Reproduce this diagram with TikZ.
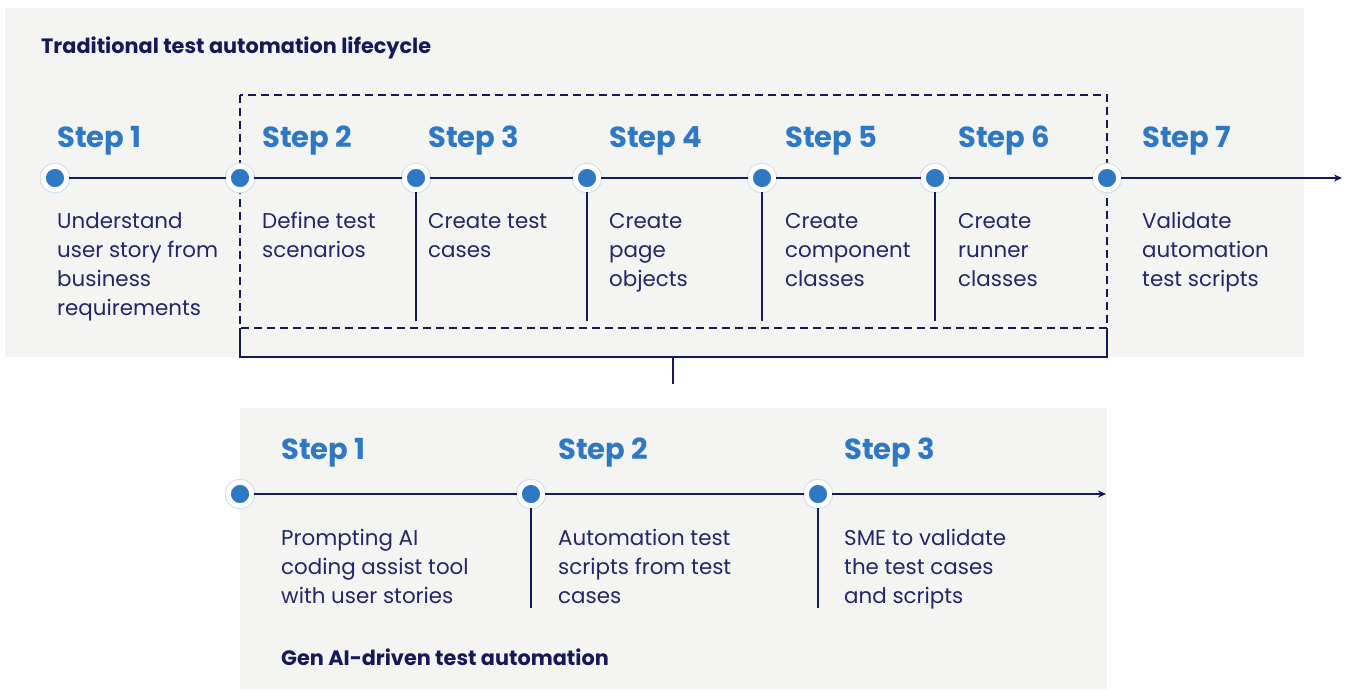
\documentclass[tikz,border=0pt]{standalone}
\usepackage{fontspec}
\setmainfont{Poppins}
\usetikzlibrary{arrows.meta}
\definecolor{stepblue}{HTML}{2F78C4}
\definecolor{navy}{HTML}{15185A}
\definecolor{bodynavy}{HTML}{23266A}
\definecolor{panel}{HTML}{F4F4F2}
\definecolor{ringblue}{HTML}{C9DDF2}
\tikzset{
	stepdot/.style={circle, inner sep=0pt, minimum size=23.5pt, fill=stepblue, draw=white, line width=5pt, preaction={draw=ringblue, line width=7pt}},
	steplabel/.style={anchor=base west, inner sep=0pt, text=stepblue, font=\fontsize{29}{29}\selectfont\bfseries},
	% base of a multi-line node sits on its last line
	steptext/.style={anchor=base west, inner sep=0pt, align=left, text=bodynavy, font=\fontsize{21.4}{29.3}\selectfont},
	headline/.style={anchor=base west, inner sep=0pt, text=navy, font=\fontsize{20.8}{20.8}\selectfont\bfseries},
	timeline/.style={draw=navy, line width=1.6pt},
	tick/.style={draw=navy, line width=2.4pt},
}

\begin{document}
\begin{tikzpicture}[x=1pt, y=-1pt]
		%%%%% START %%%%%
		\useasboundingbox (0,0) rectangle (1348,689);
		
		\fill[panel] (5,8) rectangle (1304,357);
		\fill[panel] (240,408) rectangle (1107,689);
		
		\node[headline] (toptitle) at (41,53) {Traditional test automation lifecycle};
		\node[headline] (bottitle) at (281,665) {Gen AI-driven test automation};
		
		% dashed group and bracket
		\coordinate (boxnw) at (240,95);
		\coordinate (boxse) at (1107,328);
		\draw[navy, line width=1.6pt, dash pattern=on 8pt off 5pt] (boxnw) rectangle (boxse);
		\draw[navy, line width=1.6pt] (240,328) -- (240,357) -- (1107,357) -- (1107,328);
		\draw[navy, line width=1.6pt] (673,357) -- (673,384);
		
		% traditional lifecycle
		\node[stepdot] (t1) at (55,178) {};
		\node[stepdot] (t2) at (240,178) {};
		\node[stepdot] (t3) at (416,178) {};
		\node[stepdot] (t4) at (587,178) {};
		\node[stepdot] (t5) at (762,178) {};
		\node[stepdot] (t6) at (935,178) {};
		\node[stepdot] (t7) at (1107,178) {};
		\coordinate (tend) at (1342,178);
		\coordinate (tickend) at (0,321);
		
		\draw[timeline, -{Stealth[length=8pt, width=7pt]}] (t1) -- (t2) -- (t3) -- (t4) -- (t5) -- (t6) -- (t7) -- (tend);
		\foreach \n in {3,...,6}
			\draw[tick] (t\n) -- (t\n |- tickend);
		
		\node[steplabel] (s1) at (57,147) {Step 1};
		\node[steplabel] (s2) at (262,147) {Step 2};
		\node[steplabel] (s3) at (428,147) {Step 3};
		\node[steplabel] (s4) at (609,147) {Step 4};
		\node[steplabel] (s5) at (785,147) {Step 5};
		\node[steplabel] (s6) at (958,147) {Step 6};
		\node[steplabel] (s7) at (1142,147) {Step 7};
		
		\node[steptext] (d1) at (57,315.9) {Understand\\user story from\\business\\requirements};
		\node[steptext] (d2) at (262,257.3) {Define test\\scenarios};
		\node[steptext] (d3) at (428,257.3) {Create test\\cases};
		\node[steptext] (d4) at (609,286.6) {Create\\page\\objects};
		\node[steptext] (d5) at (785,286.6) {Create\\component\\classes};
		\node[steptext] (d6) at (958,286.6) {Create\\runner\\classes};
		\node[steptext] (d7) at (1142,286.6) {Validate\\automation\\test scripts};
		
		% gen ai flow
		\node[stepdot] (b1) at (240,494) {};
		\node[stepdot] (b2) at (531,494) {};
		\node[stepdot] (b3) at (818,494) {};
		\coordinate (bend) at (1106,494);
		\coordinate (btickend) at (0,608);
		
		\draw[timeline, -{Stealth[length=8pt, width=7pt]}] (b1) -- (b2) -- (b3) -- (bend);
		\foreach \n in {2,3}
			\draw[tick] (b\n) -- (b\n |- btickend);
		
		\node[steplabel] (g1) at (281,459) {Step 1};
		\node[steplabel] (g2) at (558,459) {Step 2};
		\node[steplabel] (g3) at (844,459) {Step 3};
		
		\node[steptext] (e1) at (281,603.6) {Prompting AI\\coding assist tool\\with user stories};
		\node[steptext] (e2) at (558,603.6) {Automation test\\scripts from test\\cases};
		\node[steptext] (e3) at (844,603.6) {SME to validate\\the test cases\\and scripts};
		
		%%%%% END %%%%%
	\end{tikzpicture}
\end{document}
